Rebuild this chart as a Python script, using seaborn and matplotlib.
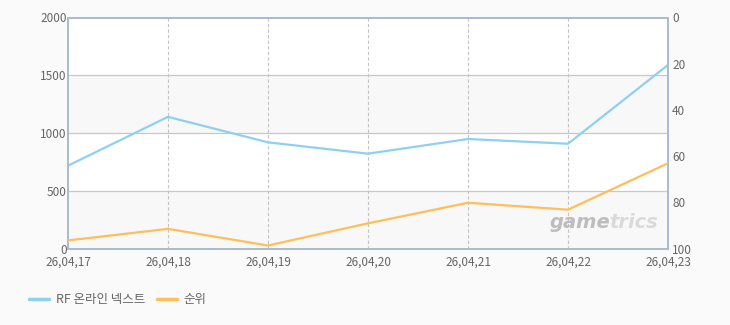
import matplotlib
matplotlib.use("Agg")
import matplotlib.pyplot as plt
import seaborn as sns
import pandas as pd
from matplotlib.lines import Line2D

dates = ["26,04,17", "26,04,18", "26,04,19", "26,04,20", "26,04,21", "26,04,22", "26,04,23"]
users = [717, 1140, 919, 821, 948, 907, 1589]
rank = [96.5, 91.5, 98.7, 89.1, 80.2, 83.2, 63.1]
series_names = ["RF 온라인 넥스트", "순위"]
left_ticks = [0, 500, 1000, 1500, 2000]
right_ticks = [0, 20, 40, 60, 80, 100]

sns.set_theme(style="white")
plt.rcParams['font.family'] = ['Noto Sans CJK KR', 'DejaVu Sans']

BLUE = "#8fd0f0"
ORANGE = "#ffbe5c"
SPINE = "#a9bcd0"
TXT = "#666666"

df = pd.DataFrame({"pos": range(len(dates)), "users": users, "rank": rank})

fig = plt.figure(figsize=(7.3, 3.25), dpi=100, facecolor="#fafafa")
ax = fig.add_axes([68/730, 1-248.5/325, 600/730, 231/325])
ax.set_facecolor("white")

# alternating bands
for i, (a, b) in enumerate(zip(left_ticks[:-1], left_ticks[1:])):
    if i % 2 == 0:
        ax.axhspan(a, b, color="#f8f8f8", zorder=0, lw=0)
for t in left_ticks[1:-1]:
    ax.axhline(t, color="#c8c8c8", lw=0.9, zorder=1)
for p in range(1, len(dates)-1):
    ax.axvline(p, color="#c4c4c4", lw=0.8, ls=(0, (3, 2)), zorder=1)

sns.lineplot(data=df, x="pos", y="users", ax=ax, color=BLUE, lw=1.6, zorder=3)
ax.set_xlim(0, len(dates)-1)
ax.set_ylim(0, 2000)
ax.set_xticks(range(len(dates)))
ax.set_xticklabels(dates)
ax.set_yticks(left_ticks)
ax.set_xlabel("")
ax.set_ylabel("")
ax.grid(False)

ax2 = ax.twinx()
sns.lineplot(data=df, x="pos", y="rank", ax=ax2, color=ORANGE, lw=1.6, zorder=3)
ax2.set_ylim(100, 0)
ax2.set_yticks(right_ticks)
ax2.set_ylabel("")
ax2.grid(False)

for a in (ax, ax2):
    for s in a.spines.values():
        s.set_color(SPINE)
        s.set_linewidth(1.4)
    a.tick_params(axis="both", length=0, labelsize=8.5, labelcolor=TXT)
ax.tick_params(axis="y", pad=1)
ax.tick_params(axis="x", pad=5)
ax2.tick_params(axis="y", pad=3)

# watermark
r = fig.canvas.get_renderer()
t2 = ax.text(0.983, 0.07, "trics", transform=ax.transAxes, ha="right", va="bottom",
             fontsize=14, fontweight="bold", style="italic", color="#dadada",
             family=["DejaVu Sans"], zorder=2)
bb = t2.get_window_extent(renderer=r)
inv = ax.transAxes.inverted()
x0 = inv.transform((bb.x0 + 1, bb.y0))[0]
ax.text(x0, 0.07, "game", transform=ax.transAxes, ha="right", va="bottom",
        fontsize=14, fontweight="bold", style="italic", color="#bdbdbd",
        family=["DejaVu Sans"], zorder=2)

handles = [Line2D([], [], color=BLUE, lw=2.5), Line2D([], [], color=ORANGE, lw=2.5)]
leg = fig.legend(handles, series_names, loc="center left", bbox_to_anchor=(18/730, 1-300/325),
                 ncol=2, frameon=False, fontsize=9, handlelength=1.6, handletextpad=0.5,
                 columnspacing=1.0)
for t in leg.get_texts():
    t.set_color(TXT)

fig.savefig("out.png", dpi=100, facecolor=fig.get_facecolor())
